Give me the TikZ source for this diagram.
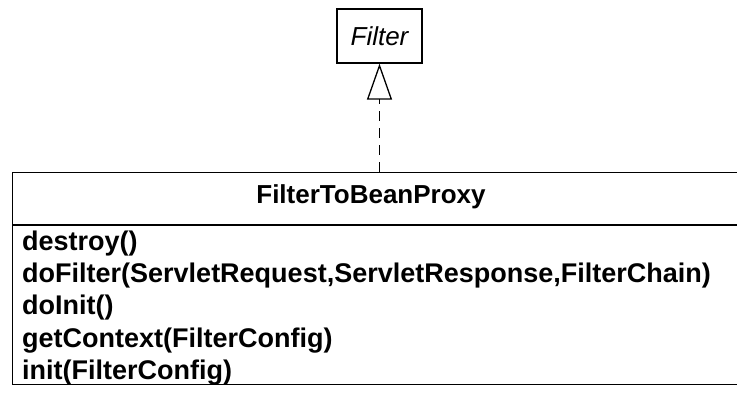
\documentclass[tikz,border=0pt]{standalone}
\usepackage{fontspec}
\setmainfont{Liberation Sans}
\usetikzlibrary{arrows.meta, positioning}
\tikzset{
  every picture/.style={line join=miter, font=\fontsize{26}{30}\selectfont},
  umlbox/.style={draw, line width=1.3pt, inner sep=0pt},
  member/.style={anchor=base west, inner sep=0pt, font=\fontsize{27}{30}\selectfont\bfseries},
  realize/.style={line width=1.3pt, dash pattern=on 10pt off 7pt, -{Triangle[open, length=36pt, width=25pt]}},
}

\begin{document}
\begin{tikzpicture}[x=1pt, y=1pt]
  \useasboundingbox (0,0) rectangle (737,394);
  \clip (0,0) rectangle (737,394);
  % ---------------- interface
  \node[umlbox, minimum width=85pt, minimum height=54pt, font=\fontsize{26}{30}\selectfont\itshape] (filter) at (379.5,358) {Filter};
  % ---------------- class (box runs past the right edge)
  \node[umlbox, anchor=north west, minimum width=740pt, minimum height=212pt] (proxy) at (12,222) {};
  \draw[line width=1.3pt] (12,169) -- (752,169);
  \node[font=\fontsize{26}{30}\selectfont\bfseries] (proxyname) at (371,197) {FilterToBeanProxy};
  % operations
  \node[member] (destroy) at (22,143) {destroy()};
  \node[member] (dofilter) at (22,111) {doFilter(ServletRequest,ServletResponse,FilterChain)};
  \node[member] (doinit) at (22,79) {doInit()};
  \node[member] (getcontext) at (22,46) {getContext(FilterConfig)};
  \node[member] (init) at (22,14) {init(FilterConfig)};
  % realization
  \draw[realize] (proxy.north -| filter.south) -- (filter.south);
\end{tikzpicture}
\end{document}
